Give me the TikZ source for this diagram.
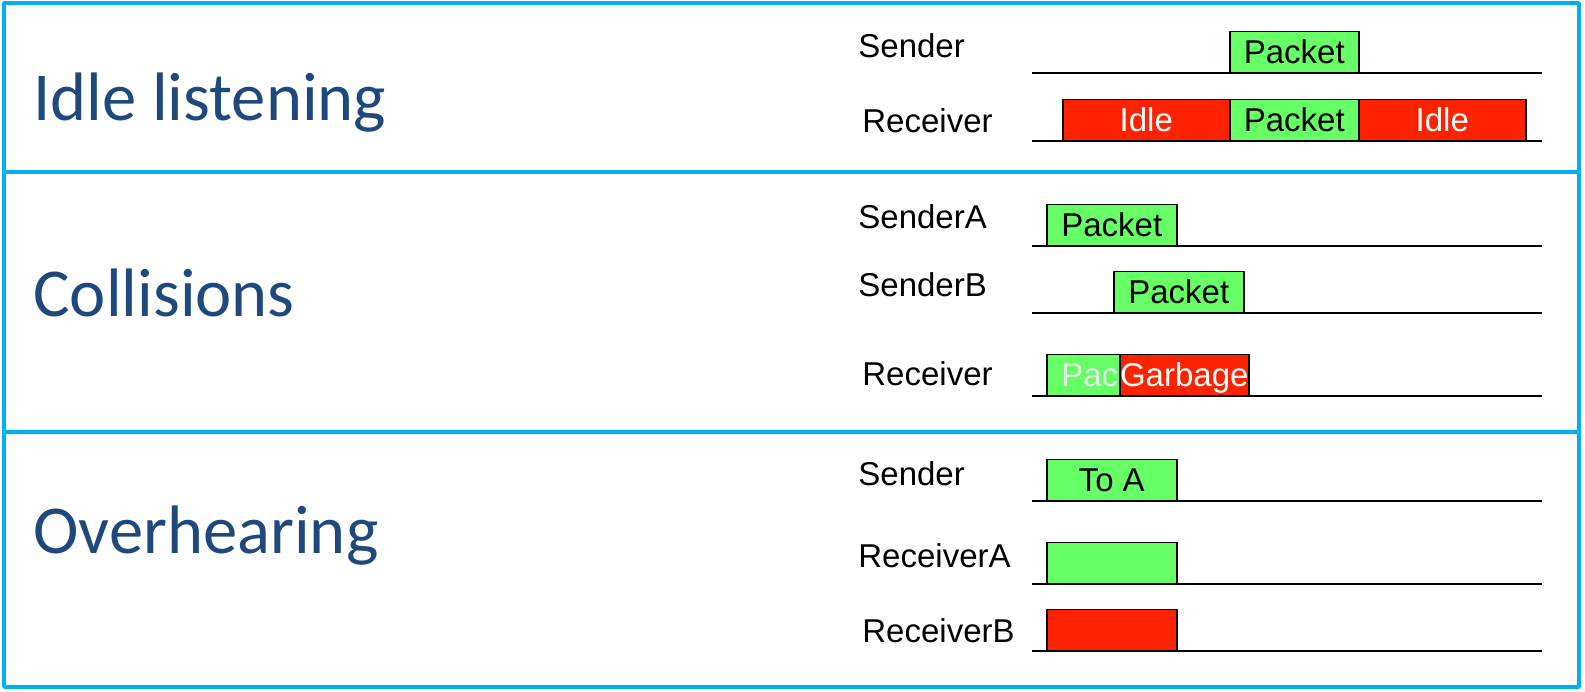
\documentclass[tikz,border=0pt]{standalone}
\usepackage{fontspec}
\setmainfont{Liberation Sans}
\newfontfamily\titlefont{Carlito}
\definecolor{frameblue}{RGB}{0,176,240}
\definecolor{titleblue}{RGB}{31,73,125}
\definecolor{pktgreen}{RGB}{102,255,102}
\definecolor{idlered}{RGB}{255,34,0}
\definecolor{fadetext}{RGB}{228,240,228}
\tikzset{
  pkt/.style={draw=black, line width=0.75pt, fill=pktgreen, anchor=south west,
    minimum height=20.5pt, inner sep=0pt, text height=11.8pt, text depth=0pt,
    font=\fontsize{16.5}{18}\selectfont},
  idlebox/.style={pkt, fill=idlered, text=white},
  title/.style={anchor=base west, inner sep=0pt, text=titleblue,
    font=\titlefont\fontsize{34.3}{38}\selectfont},
  lbl/.style={anchor=base west, inner sep=0pt, font=\fontsize{16.5}{18}\selectfont},
  tline/.style={line width=1pt},
  frame/.style={draw=frameblue, line width=1.8pt}
}
\begin{document}
\begin{tikzpicture}[x=0.5pt, y=-0.5pt, line join=round]
	\useasboundingbox (0,0) rectangle (1585,691);
	% frame and dividers
	\draw[frame] (4,3) rectangle (1579,687);
	\draw[frame] (4,172) -- (1579,172) (4,432) -- (1579,432);
	% titles
	\node[title] (idle) at (33,120) {Idle listening};
	\node[title] (coll) at (33,316) {Collisions};
	\node[title] (over) at (33,553) {Overhearing};
	% row labels
	\node[lbl] (snd) at (858,57) {Sender};
	\node[lbl] (rcv) at (862,132) {Receiver};
	\node[lbl] (snda) at (858,228) {SenderA};
	\node[lbl] (sndb) at (858,296) {SenderB};
	\node[lbl] (crcv) at (862,385) {Receiver};
	\node[lbl] (osnd) at (858,485) {Sender};
	\node[lbl] (rcva) at (858,567) {ReceiverA};
	\node[lbl] (rcvb) at (862,642) {ReceiverB};
	% time lines
	\foreach \y in {73,141,246,313,396,501,584,651}
		\draw[tline] (1032,\y) -- (1542,\y);
	% idle listening
	\node[pkt, minimum width=64.5pt] (spkt) at (1229,73) {Packet};
	\node[idlebox, minimum width=83.5pt] (idle1) at (1062,141) {Idle};
	\node[pkt, minimum width=64.5pt] (rpkt) at (1229,141) {Packet};
	\node[idlebox, minimum width=83.5pt] (idle2) at (1358,141) {Idle};
	% collisions
	\node[pkt, minimum width=65pt] (apkt) at (1046,246) {Packet};
	\node[pkt, minimum width=65pt] (bpkt) at (1113,313) {Packet};
	\node[pkt, minimum width=65pt, text=fadetext] (cpkt) at (1046,396) {Packet};
	\node[idlebox, minimum width=64.5pt] (garb) at (1119,396) {Garbage};
	% overhearing
	\node[pkt, minimum width=65pt] (toa) at (1046,501) {To A};
	\node[pkt, minimum width=65pt] (hra) at (1046,584) {};
	\node[idlebox, minimum width=65pt] (hrb) at (1046,651) {};
\end{tikzpicture}
\end{document}
